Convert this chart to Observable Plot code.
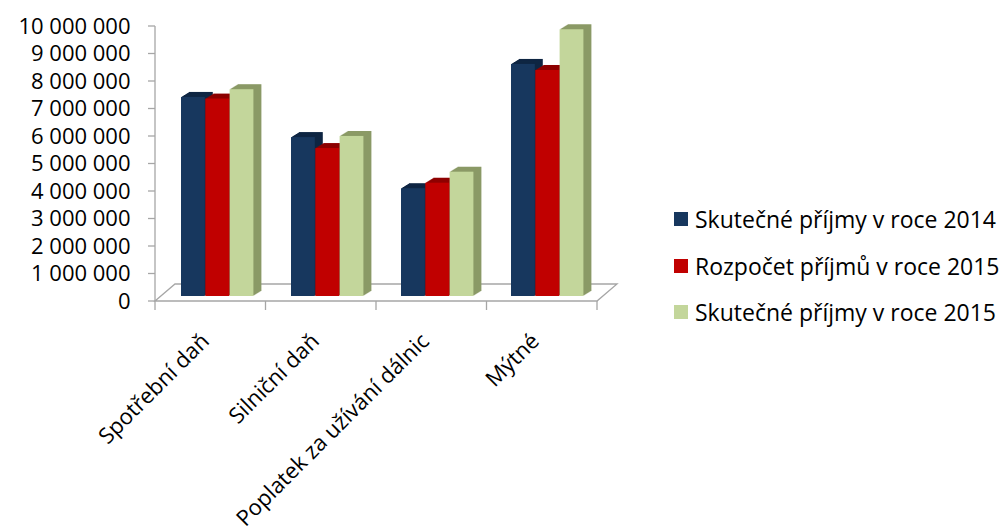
<!DOCTYPE html>
<html>
<head>
<meta charset="utf-8">
<script src="https://cdn.jsdelivr.net/npm/d3@7"></script>
<script src="https://cdn.jsdelivr.net/npm/@observablehq/plot@0.6"></script>
<style>
  html, body { margin: 0; padding: 0; background: #ffffff; }
  #wrap { position: relative; width: 1005px; height: 530px; font-family: "Open Sans", sans-serif; color: #000; }
  #chart { position: absolute; left: 0; top: 0; }
  .leg { position: absolute; left: 674px; display: flex; align-items: center; font-size: 23px; white-space: nowrap; line-height: 1; }
  .leg .sw { width: 14px; height: 14px; margin-right: 7px; flex: none; }
</style>
</head>
<body>
<div id="wrap"><div id="chart"></div><div id="legend"></div></div>
<script>
// ---- data ----
const categories = ["Spotřební daň", "Silniční daň", "Poplatek za užívání dálnic", "Mýtné"];
const seriesNames = ["Skutečné příjmy v roce 2014", "Rozpočet příjmů v roce 2015", "Skutečné příjmy v roce 2015"];
const actual2014 = [7240000, 5780000, 3920000, 8440000];
const budget2015 = [7180000, 5380000, 4120000, 8220000];
const actual2015 = [7520000, 5820000, 4520000, 9700000];
const yDomain = [0, 10000000];

// ---- styling ----
const frontColors = ["#17375E", "#C00000", "#C3D69B"];
const depthColors = ["#0F2643", "#8E0000", "#8B9A66"];
const W = 660, H = 530, ML = 155, MR = 63, MT = 26, MB = 229;
const bandW = (W - ML - MR) / categories.length;
const barW = 24.3, groupOffset = 25, depthSteps = 8, lift = 5;

const rows = categories.map((c, i) => ({category: c, s0: actual2014[i], s1: budget2015[i], s2: actual2015[i]}));

function insets(s) {
  const l = groupOffset + s * barW;
  return {insetLeft: l, insetRight: bandW - l - barW};
}

const fmt = d => d3.format(",")(d).replace(/,/g, "\u00a0");

function decor(index, scales, values, dims) {
  const y = scales.y;
  const x0 = dims.marginLeft, x1 = dims.width - dims.marginRight;
  const y0 = y(yDomain[0]), yTop = y(yDomain[1]);
  const g = d3.create("svg:g").attr("fill", "none").attr("stroke", "#A6A6A6").attr("stroke-width", 1.3);
  // floor parallelogram
  g.append("path").attr("d", `M${x0},${y0}L${x0 + 20},${y0 - 17}L${x1 + 20},${y0 - 17}L${x1},${y0}Z`);
  // y axis line
  g.append("line").attr("x1", x0).attr("x2", x0).attr("y1", yTop).attr("y2", y0);
  // y ticks
  for (const t of y.ticks ? y.ticks(10) : []) {
    g.append("line").attr("x1", x0 - 7).attr("x2", x0).attr("y1", y(t)).attr("y2", y(t));
  }
  // category boundary ticks
  for (let i = 0; i <= categories.length; i++) {
    const xx = x0 + i * (x1 - x0) / categories.length;
    g.append("line").attr("x1", xx).attr("x2", xx).attr("y1", y0).attr("y2", y0 + 9);
  }
  return g.node();
}

const marks = [decor];
// depth (top & side faces) drawn as stacked offset layers
for (let s = 0; s < 3; s++) {
  for (let k = depthSteps; k >= 1; k--) {
    marks.push(Plot.barY(rows, {x: "category", y: "s" + s, fill: depthColors[s], ...insets(s), dx: k, dy: -lift - k * 0.62}));
  }
}
// front faces
for (let s = 0; s < 3; s++) {
  marks.push(Plot.barY(rows, {x: "category", y: "s" + s, fill: frontColors[s], ...insets(s), dy: -lift}));
}

const hasAxisMarks = typeof Plot.axisX === "function";
const xOpts = {domain: categories, padding: 0, label: null};
if (hasAxisMarks) {
  xOpts.axis = null;
  marks.push(Plot.axisX({tickSize: 0, tickPadding: 34, tickRotate: -45, dx: -6, dy: 2, label: null, fontSize: 22}));
} else {
  Object.assign(xOpts, {tickSize: 0, tickPadding: 34, tickRotate: -45});
}

const chart = Plot.plot({
  width: W, height: H,
  marginLeft: ML, marginRight: MR, marginTop: MT, marginBottom: MB,
  style: {fontFamily: "Open Sans", fontSize: "22px", color: "#000", background: "transparent", overflow: "visible"},
  x: xOpts,
  y: {domain: yDomain, ticks: 10, tickFormat: fmt, tickSize: 0, tickPadding: 25, label: null},
  marks
});
document.getElementById("chart").appendChild(chart);

// legend
const legend = document.getElementById("legend");
const legendCenters = [219, 266, 312];
seriesNames.forEach((name, i) => {
  const d = document.createElement("div");
  d.className = "leg";
  d.style.top = (legendCenters[i] - 15) + "px";
  d.style.height = "30px";
  d.innerHTML = `<span class="sw" style="background:${frontColors[i]}"></span><span>${name}</span>`;
  legend.appendChild(d);
});
</script>
</body>
</html>
